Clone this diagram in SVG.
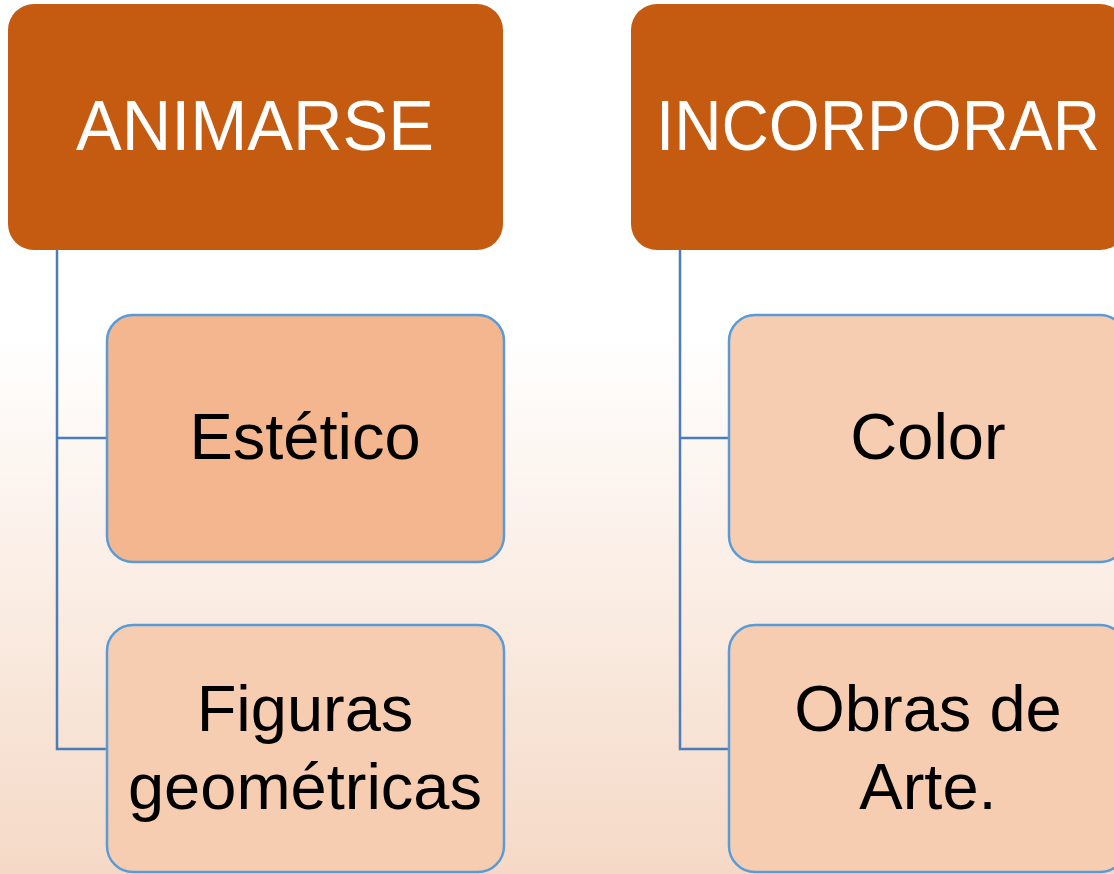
<svg xmlns="http://www.w3.org/2000/svg" width="1114" height="874" viewBox="0 0 1114 874">
<defs>
<linearGradient id="bg" x1="0" y1="0" x2="0" y2="874" gradientUnits="userSpaceOnUse">
<stop offset="0" stop-color="#ffffff"/>
<stop offset="0.38" stop-color="#ffffff"/>
<stop offset="1" stop-color="#F5D9C6"/>
</linearGradient>
</defs>
<style>
.head{fill:#C55A11;}
.child{fill:#F7CDB2;stroke:#5B9BD5;stroke-width:2.5;}
.child.dark{fill:#F3B68E;}
.conn{fill:none;stroke:#4A7EBB;stroke-width:2.5;}
.ht{font-family:"Liberation Sans",Arial,sans-serif;font-size:71px;fill:#ffffff;text-anchor:middle;}
.ct{font-family:"Liberation Sans",Arial,sans-serif;font-size:65px;fill:#000000;text-anchor:middle;}
</style>
<rect x="0" y="0" width="1114" height="874" fill="url(#bg)"/>
<g id="connectors">
<path class="conn" d="M57 250 V749 H107 M57 438 H107"/>
<path class="conn" d="M680 250 V749 H729 M680 438 H729"/>
</g>
<g id="animarse">
<rect class="head" x="8" y="4" width="495" height="246" rx="26"/>
<text class="ht" x="255" y="150" textLength="358" lengthAdjust="spacingAndGlyphs">ANIMARSE</text>
</g>
<g id="incorporar">
<rect class="head" x="631" y="4" width="495" height="246" rx="26"/>
<text class="ht" x="878" y="150" textLength="444" lengthAdjust="spacingAndGlyphs">INCORPORAR</text>
</g>
<g id="estetico">
<rect class="child dark" x="107" y="315" width="397" height="247" rx="26"/>
<text class="ct" x="305" y="459">Estético</text>
</g>
<g id="figuras">
<rect class="child" x="107" y="625" width="397" height="247" rx="26"/>
<text class="ct" x="305" y="731">Figuras</text>
<text class="ct" x="305" y="809">geométricas</text>
</g>
<g id="color">
<rect class="child" x="729" y="315" width="397" height="247" rx="26"/>
<text class="ct" x="928" y="459">Color</text>
</g>
<g id="obras">
<rect class="child" x="729" y="625" width="397" height="247" rx="26"/>
<text class="ct" x="928" y="731">Obras de</text>
<text class="ct" x="928" y="809">Arte.</text>
</g>
</svg>
